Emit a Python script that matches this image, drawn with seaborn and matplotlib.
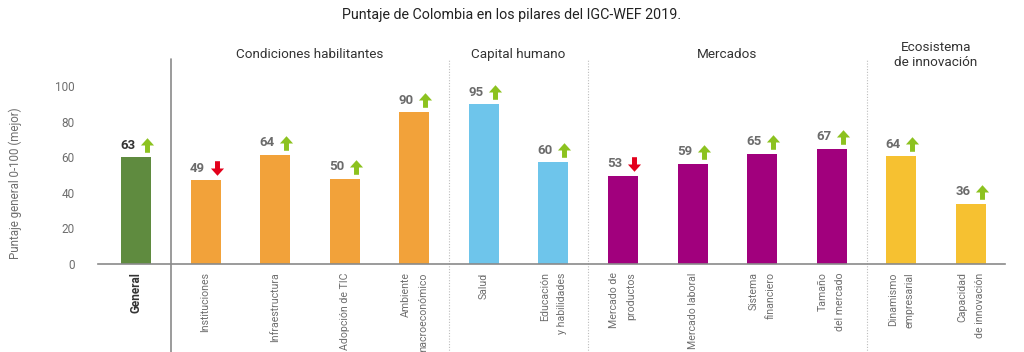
import matplotlib
matplotlib.use("Agg")
import matplotlib.pyplot as plt
import matplotlib.transforms as mtransforms
from matplotlib.path import Path
import seaborn as sns
import pandas as pd

# ---- data ----
pilares = ["General", "Instituciones", "Infraestructura", "Adopción de TIC",
           "Ambiente\nmacroeconómico", "Salud", "Educación\ny habilidades",
           "Mercado de\nproductos", "Mercado laboral", "Sistema\nfinanciero",
           "Tamaño\ndel mercado", "Dinamismo\nempresarial", "Capacidad\nde innovación"]
grupos = ["General", "Condiciones habilitantes", "Condiciones habilitantes",
          "Condiciones habilitantes", "Condiciones habilitantes", "Capital humano",
          "Capital humano", "Mercados", "Mercados", "Mercados", "Mercados",
          "Ecosistema\nde innovación", "Ecosistema\nde innovación"]
# printed scores
puntaje = [63, 49, 64, 50, 90, 95, 60, 53, 59, 65, 67, 64, 36]
# bar heights as drawn in the picture
altura = [60.1, 47.0, 61.4, 47.8, 85.2, 89.7, 57.3, 49.6, 56.2, 62.0, 64.8, 60.5, 33.9]
tendencia = ["up", "down", "up", "up", "up", "up", "up", "down", "up", "up", "up", "up", "up"]
titulos_grupo = ["Condiciones habilitantes", "Capital humano", "Mercados", "Ecosistema\nde innovación"]
yticks = [0, 20, 40, 60, 80, 100]

colores = {"General": "#5F8B3F", "Condiciones habilitantes": "#F2A23A",
           "Capital humano": "#6EC5EB", "Mercados": "#A1007D",
           "Ecosistema\nde innovación": "#F6C131"}

df = pd.DataFrame({"pilar": pilares, "grupo": grupos, "altura": altura})

sns.set_theme(style="white")
plt.rcParams["font.family"] = ["Roboto", "DejaVu Sans"]

fig = plt.figure(figsize=(10.24, 3.52), dpi=100)
W, H = 1024, 352
ax_left, ax_right, ax_bottom_px, ax_top_px = 98, 1005, 264, 40
ax = fig.add_axes([ax_left / W, 1 - ax_bottom_px / H,
                   (ax_right - ax_left) / W, (ax_bottom_px - ax_top_px) / H])

sns.barplot(data=df, x="pilar", y="altura", hue="grupo", palette=colores,
            dodge=False, width=0.43, legend=False, ax=ax, order=pilares,
            linewidth=0, saturation=1)

ymax = 100 * (ax_bottom_px - ax_top_px) / (ax_bottom_px - 86)
ax.set_ylim(0, ymax)
ax.set_xlim(-0.546, 12.49)

ax.set_yticks(yticks)
ax.set_yticklabels([str(t) for t in yticks], fontsize=8.5, color="#6e6e6e")
ax.tick_params(axis="y", length=0, pad=17)
ax.tick_params(axis="x", length=0, pad=6)
ax.set_xticks(range(len(pilares)))
ax.set_xticklabels(pilares, rotation=90, va="top", ha="center",
                   fontsize=7.6, color="#6e6e6e")
for lbl in ax.get_xticklabels():
    lbl.set_multialignment("right")
    lbl.set_linespacing(1.9)
lbl0 = ax.get_xticklabels()[0]
lbl0.set_fontweight("bold")
lbl0.set_color("#333333")
lbl0.set_fontsize(8.5)

ax.set_xlabel("")
ax.set_ylabel("Puntaje general 0-100 (mejor)", fontsize=8.3, color="#6e6e6e")
ax.yaxis.set_label_coords(-0.084, 0.36)

for s in ["top", "left", "right"]:
    ax.spines[s].set_visible(False)
ax.spines["bottom"].set_color("#8a8a8a")
ax.spines["bottom"].set_linewidth(1.2)

# separators
ax.axvline(0.5, ymin=-0.4, ymax=0.915, color="#8a8a8a", lw=1.2, clip_on=False)
for xs in [4.5, 6.5, 10.5]:
    ax.axvline(xs, ymin=-0.4, ymax=0.915, color="#bdbdbd", lw=0.8,
               ls=(0, (1, 1.5)), clip_on=False)

# group titles
trans = mtransforms.blended_transform_factory(ax.transData, ax.transAxes)
for g in titulos_grupo:
    idx = [i for i, gg in enumerate(grupos) if gg == g]
    xc = sum(idx) / len(idx)
    ax.text(xc, 0.935, g, transform=trans, ha="center", va="center",
            fontsize=9.7, color="#333333", linespacing=1.2)

# arrow marker
up_verts = [(0, 0.5), (0.45, 0.0), (0.17, 0.0), (0.17, -0.5), (-0.17, -0.5),
            (-0.17, 0.0), (-0.45, 0.0), (0, 0.5)]
up_codes = [Path.MOVETO] + [Path.LINETO] * 6 + [Path.CLOSEPOLY]
up_path = Path(up_verts, up_codes)
down_path = Path([(x, -y) for x, y in up_verts], up_codes)

pt = 72 / 100  # points per pixel
for i, (h, v, t) in enumerate(zip(altura, puntaje, tendencia)):
    col = "#333333" if i == 0 else "#6b6b6b"
    ax.annotate(str(v), xy=(i, h), xytext=(-8 * pt, 12 * pt),
                textcoords="offset points", ha="center", va="center",
                fontsize=9.5, fontweight="bold", color=col)
    off = mtransforms.ScaledTranslation(11 / 100, 12 / 100, fig.dpi_scale_trans)
    ax.plot([i], [h], marker=up_path if t == "up" else down_path,
            markersize=10.5, color="#8CC21F" if t == "up" else "#E3001B",
            markeredgewidth=0, transform=ax.transData + off, clip_on=False)

fig.text(0.5, 1 - 15 / H, "Puntaje de Colombia en los pilares del IGC-WEF 2019.",
         ha="center", va="center", fontsize=10.3, color="#222222")

fig.savefig("out.png", dpi=100)
